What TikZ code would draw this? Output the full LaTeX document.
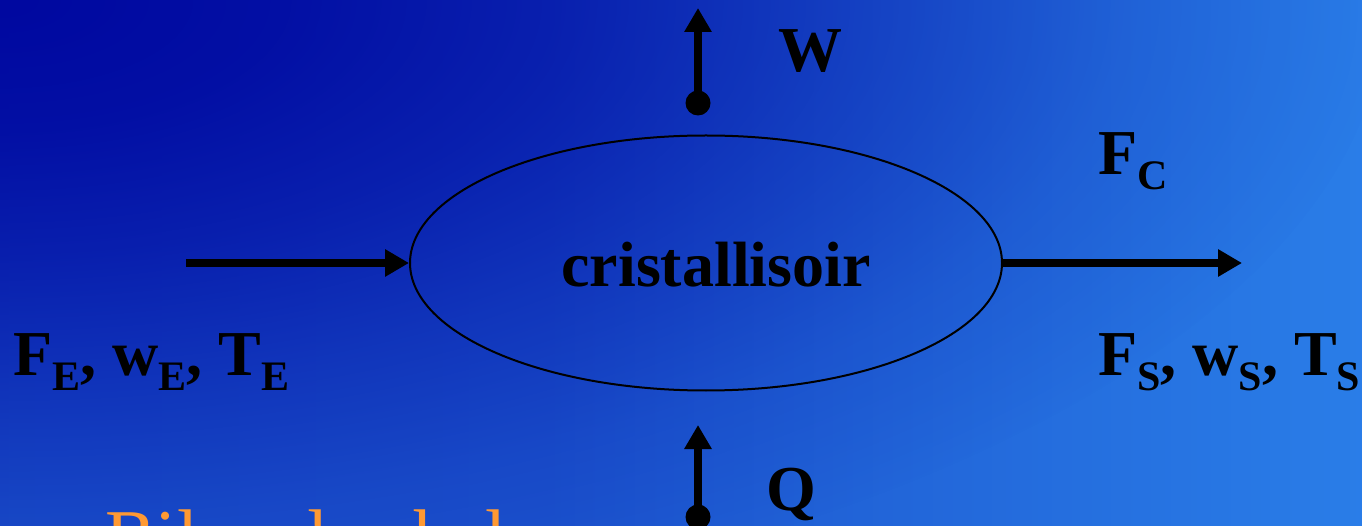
\documentclass[tikz,border=0pt]{standalone}
\usepackage{fontspec}
\setmainfont{Liberation Serif}
\usetikzlibrary{shapes.geometric,arrows.meta,fadings}
\definecolor{bgL}{HTML}{1A4CC8}
\definecolor{bgM}{HTML}{1C54CE}
\definecolor{bgR2}{HTML}{2C84EC}
\definecolor{bgR}{HTML}{2E8CF2}
\definecolor{bgD}{HTML}{0008A0}
\definecolor{orangeT}{HTML}{FF9933}
\pgfdeclarehorizontalshading{bgshade}{100bp}{color(0bp)=(bgL); color(45bp)=(bgM); color(80bp)=(bgR2); color(100bp)=(bgR)}
\pgfdeclareradialshading{cfsh}{\pgfpointorigin}{color(0bp)=(pgftransparent!0); color(5bp)=(pgftransparent!10); color(10bp)=(pgftransparent!32); color(15bp)=(pgftransparent!60); color(20bp)=(pgftransparent!85); color(25bp)=(pgftransparent!100); color(50bp)=(pgftransparent!100)}
\pgfdeclarefading{cornerfade}{\pgfuseshading{cfsh}}
\newcommand\sbb[1]{\raisebox{-15pt}{\fontsize{42}{42}\selectfont #1}}
\tikzset{
  lab/.style={inner sep=0pt, font=\fontsize{64}{70}\selectfont\bfseries},
  flow/.style={line width=8pt, -{Triangle[length=24pt,width=26pt]}},
  dotn/.style={circle, fill=black, minimum size=25pt, inner sep=0pt},
  vessel/.style={ellipse, draw=black, line width=2pt, minimum width=592pt, minimum height=255pt, inner sep=0pt}
}
\begin{document}
\begin{tikzpicture}[x=1pt,y=-1pt]
\useasboundingbox (0,0) rectangle (1362,526);
\begin{scope}
\clip (0,0) rectangle (1362,526);
\shade[shading=bgshade] (0,0) rectangle (1362,526);
\fill[bgD, path fading=cornerfade, fit fading=true] (0,0) ellipse (1400pt and 640pt);
\node[anchor=base west, inner sep=0pt, text=orangeT, font=\fontsize{76}{80}\selectfont] (bil) at (105,562) {Bilan de chaleur};
\end{scope}

\node[vessel] (cr) at (706,263) {};
\node[lab, anchor=base] (crl) at (716,287) {cristallisoir};

\coordinate (inS) at (186,263);
\coordinate (outE) at (1242,263);
\draw[flow] (inS) -- (cr.west);
\draw[flow] (cr.east) -- (outE);

\node[dotn] (wd) at (698,103) {};
\coordinate (wt) at (698,8);
\draw[flow] (wd.center) -- (wt);

\node[dotn] (qd) at (698,517) {};
\coordinate (qt) at (698,425);
\draw[flow] (qd.center) -- (qt);

\node[lab, anchor=base west] (wl) at (778,72) {W};
\node[lab, anchor=base west] (ql) at (766,510) {Q};
\node[lab, anchor=base west] (fe) at (13,375) {F\sbb{E}, w\sbb{E}, T\sbb{E}};
\node[lab, anchor=base west] (fc) at (1098,175) {F\sbb{C}};
\node[lab, anchor=base west] (fs) at (1098,375) {F\sbb{S}, w\sbb{S}, T\sbb{S}};
\end{tikzpicture}
\end{document}
